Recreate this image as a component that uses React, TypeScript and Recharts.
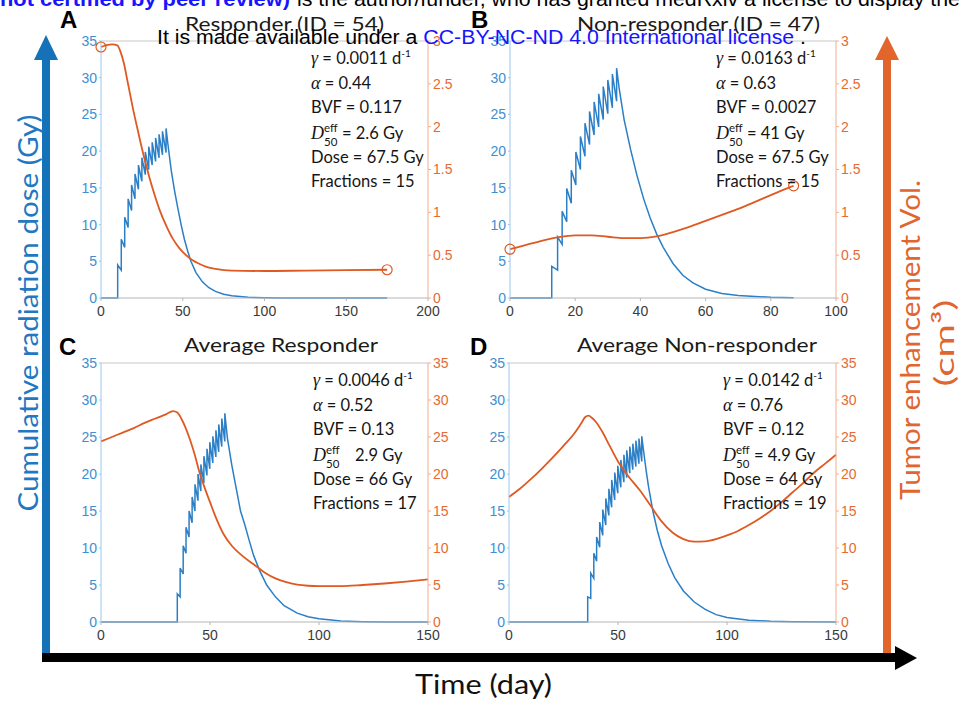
import React from 'react';
import { ComposedChart, Line, XAxis, YAxis, ReferenceLine } from 'recharts';

const BLUE = '#2b7fc6';
const ORANGE = '#de5a22';
const TICK_FONT = 'Liberation Sans';
const TEXT_FONT = 'Lato';

// x ticks / y ticks
const xTicksA = [0, 50, 100, 150, 200];
const xTicksB = [0, 20, 40, 60, 80, 100];
const xTicksCD = [0, 50, 100, 150];
const doseTicks = [0, 5, 10, 15, 20, 25, 30, 35];
const volTicksAB = [0, 0.5, 1, 1.5, 2, 2.5, 3];
const volTicksCD = [0, 5, 10, 15, 20, 25, 30, 35];

// A: Responder (ID = 54)
const doseDaysA = [10.2, 12.4, 14.5, 16.6, 18.7, 20.8, 22.9, 25.0, 27.1, 29.2, 31.3, 33.4, 35.5, 37.6, 39.8];
const dosePeaksA = [4.5, 8.0, 11.0, 13.5, 15.4, 16.9, 18.1, 19.1, 19.9, 20.6, 21.2, 21.8, 22.3, 22.7, 23.1];
const doseTroughsA = [3.8, 6.9, 9.6, 11.9, 13.5, 14.8, 15.9, 16.8, 17.5, 18.1, 18.6, 19.1, 19.5, 19.8];
const tailDaysA = [41, 43, 45, 47, 49, 51, 53, 55, 58, 62, 66, 70, 75, 80, 90, 100, 110, 175];
const tailDoseA = [20.8, 17.3, 14.6, 12.2, 10.0, 8.0, 6.4, 5.0, 3.5, 2.2, 1.4, 0.9, 0.5, 0.3, 0.1, 0.03, 0, 0];
const volDaysA = [0, 3, 7, 10, 12, 14, 16, 18, 20, 22, 24, 26, 28, 30, 33, 36, 40, 44, 48, 52, 56, 60, 65, 70, 80, 100, 125, 150, 175];
const volA = [2.93, 2.95, 2.96, 2.95, 2.87, 2.74, 2.55, 2.36, 2.17, 2.0, 1.83, 1.67, 1.52, 1.38, 1.19, 1.02, 0.84, 0.69, 0.58, 0.5, 0.44, 0.4, 0.36, 0.34, 0.32, 0.315, 0.32, 0.325, 0.33];

// B: Non-responder (ID = 47)
const doseDaysB = [12.8, 14.6, 16.0, 17.4, 18.8, 20.2, 21.6, 23.0, 24.4, 25.8, 27.2, 28.6, 30.0, 31.4, 32.7];
const dosePeaksB = [4.3, 8.3, 11.8, 14.9, 17.4, 19.9, 22.0, 23.8, 25.4, 26.7, 27.8, 28.8, 29.7, 30.5, 31.3];
const doseTroughsB = [3.8, 7.3, 10.4, 12.9, 15.4, 17.5, 19.3, 20.9, 22.2, 23.3, 24.3, 25.1, 25.9, 26.8];
const tailDaysB = [33.5, 35, 37, 39, 41, 43, 45, 47, 50, 53, 56, 60, 65, 70, 80, 87];
const tailDoseB = [28.5, 24.3, 20.2, 16.6, 13.5, 10.9, 8.7, 6.9, 4.7, 3.1, 2.1, 1.2, 0.6, 0.35, 0.1, 0.03];
const volDaysB = [0, 5, 10, 15, 20, 25, 30, 35, 40, 45, 50, 55, 60, 65, 70, 75, 80, 85, 87];
const volB = [0.57, 0.62, 0.67, 0.71, 0.73, 0.73, 0.715, 0.7, 0.7, 0.72, 0.77, 0.83, 0.9, 0.97, 1.04, 1.12, 1.2, 1.28, 1.31];

// C: Average Responder
const doseDaysC = [35.0, 36.3, 37.7, 39.0, 40.4, 41.8, 43.1, 44.5, 45.8, 47.2, 48.6, 49.9, 51.3, 52.7, 54.0, 55.4, 56.8];
const dosePeaksC = [3.8, 7.3, 10.3, 12.8, 15.0, 16.9, 18.6, 20.0, 21.3, 22.4, 23.4, 24.3, 25.1, 25.9, 26.7, 27.5, 28.2];
const doseTroughsC = [3.4, 6.5, 9.3, 11.5, 13.4, 15.0, 16.4, 17.7, 18.8, 19.8, 20.7, 21.5, 22.3, 23.0, 23.7, 24.4];
const tailDaysC = [58, 60, 62, 64, 66, 68, 70, 73, 76, 80, 84, 90, 95, 100, 110, 120, 130, 150];
const tailDoseC = [24.8, 21.2, 18.1, 15.0, 13.1, 11.0, 9.0, 6.8, 5.0, 3.4, 2.2, 1.2, 0.7, 0.45, 0.15, 0.05, 0, 0];
const volDaysC = [0, 5, 10, 15, 20, 25, 30, 33, 35, 37, 39, 41, 43, 45, 47, 50, 53, 56, 60, 65, 70, 75, 80, 85, 90, 95, 100, 110, 120, 130, 140, 150];
const volC = [24.4, 25.0, 25.6, 26.2, 26.9, 27.5, 28.1, 28.5, 28.3, 27.4, 26.1, 24.5, 22.6, 20.4, 18.6, 16.2, 13.9, 12.0, 10.3, 8.9, 7.8, 6.7, 5.9, 5.4, 5.05, 4.9, 4.85, 4.85, 5.0, 5.2, 5.45, 5.75];

// D: Average Non-responder
const doseDaysD = [36.1, 37.5, 38.9, 40.2, 41.6, 43.0, 44.4, 45.8, 47.1, 48.5, 49.9, 51.3, 52.7, 54.0, 55.4, 56.8, 58.2, 59.6, 60.9];
const dosePeaksD = [3.4, 6.6, 9.3, 11.5, 13.5, 15.2, 16.7, 18.0, 19.2, 20.2, 21.1, 21.9, 22.6, 23.2, 23.7, 24.1, 24.5, 24.8, 25.1];
const doseTroughsD = [3.2, 5.9, 8.2, 10.1, 11.7, 13.1, 14.4, 15.5, 16.5, 17.4, 18.2, 18.9, 19.5, 20.1, 20.6, 21.0, 21.4, 21.7];
const tailDaysD = [62, 63, 64, 66, 68, 70, 73, 76, 80, 85, 90, 95, 100, 110, 120, 130, 150];
const tailDoseD = [22.5, 20.3, 18.3, 15.0, 12.4, 10.3, 7.9, 6.0, 4.2, 2.7, 1.7, 1.0, 0.6, 0.25, 0.1, 0.03, 0];
const volDaysD = [0, 5, 10, 15, 20, 25, 30, 33, 35, 36.5, 38, 40, 43, 46, 50, 55, 60, 65, 70, 75, 80, 85, 90, 95, 100, 105, 110, 115, 120, 125, 130, 135, 140, 145, 150];
const volD = [16.9, 18.0, 19.3, 20.7, 22.2, 23.8, 25.5, 26.8, 27.7, 27.9, 27.6, 27.0, 25.6, 23.9, 21.7, 19.6, 17.8, 15.7, 13.6, 12.1, 11.2, 10.85, 10.9, 11.2, 11.7, 12.3, 13.1, 14.0, 15.0, 16.2, 17.5, 18.8, 20.2, 21.4, 22.6];

// fitted parameters shown in each panel
const gammaText = ['0.0011', '0.0163', '0.0046', '0.0142'];
const alphaText = ['0.44', '0.63', '0.52', '0.76'];
const bvfText = ['0.117', '0.0027', '0.13', '0.12'];
const d50Text = ['= 2.6 Gy', '= 41 Gy', '2.9 Gy', '= 4.9 Gy'];
const doseText = ['67.5 Gy', '67.5 Gy', '66 Gy', '64 Gy'];
const fractionText = ['15', '15', '17', '19'];
const titles = ['Responder (ID = 54)', 'Non-responder (ID = 47)', 'Average Responder', 'Average Non-responder'];

function buildDose(days: number[], peaks: number[], troughs: number[], tailDays: number[], tailDose: number[]) {
  const pts = [{ x: 0, dose: 0 }, { x: days[0], dose: 0 }, { x: days[0], dose: peaks[0] }];
  for (let i = 1; i < days.length; i++) {
    pts.push({ x: days[i], dose: troughs[i - 1] });
    pts.push({ x: days[i], dose: peaks[i] });
  }
  tailDays.forEach((d, i) => pts.push({ x: d, dose: tailDose[i] }));
  return pts;
}

function buildVol(days: number[], vals: number[]) {
  return days.map((d, i) => ({ x: d, vol: vals[i] }));
}

const panels = [
  { left: 101, top: 41, w: 327, h: 257, xMax: 200, xTicks: xTicksA, volMax: 3, volTicks: volTicksAB, markers: true,
    dose: buildDose(doseDaysA, dosePeaksA, doseTroughsA, tailDaysA, tailDoseA), vol: buildVol(volDaysA, volA) },
  { left: 510, top: 41, w: 326, h: 257, xMax: 100, xTicks: xTicksB, volMax: 3, volTicks: volTicksAB, markers: true,
    dose: buildDose(doseDaysB, dosePeaksB, doseTroughsB, tailDaysB, tailDoseB), vol: buildVol(volDaysB, volB) },
  { left: 101, top: 363, w: 327, h: 259, xMax: 150, xTicks: xTicksCD, volMax: 35, volTicks: volTicksCD, markers: false,
    dose: buildDose(doseDaysC, dosePeaksC, doseTroughsC, tailDaysC, tailDoseC), vol: buildVol(volDaysC, volC) },
  { left: 509, top: 363, w: 327, h: 259, xMax: 150, xTicks: xTicksCD, volMax: 35, volTicks: volTicksCD, markers: false,
    dose: buildDose(doseDaysD, dosePeaksD, doseTroughsD, tailDaysD, tailDoseD), vol: buildVol(volDaysD, volD) },
];

// note positions, title positions, letters
const noteX = [311, 716, 313, 723];
const titleBox = [
  { x: 185, y: 31, len: 199 },
  { x: 577, y: 31, len: 243 },
  { x: 184, y: 352, len: 194 },
  { x: 577, y: 352, len: 240 },
];
const letters = [
  { t: 'A', x: 60, y: 28 },
  { t: 'B', x: 471, y: 28 },
  { t: 'C', x: 59, y: 355 },
  { t: 'D', x: 470, y: 355 },
];

function endDots(len: number) {
  // eslint-disable-next-line @typescript-eslint/no-explicit-any
  return (props: any) => {
    const { cx, cy, index } = props;
    if (index !== 0 && index !== len - 1) return <g key={`d${index}`} />;
    return <circle key={`d${index}`} cx={cx} cy={cy} r={5} fill="none" stroke={ORANGE} strokeWidth={1.2} />;
  };
}

// eslint-disable-next-line @typescript-eslint/no-explicit-any
function Panel({ p }: { p: any }) {
  const W = p.w + 81;
  const H = p.h + 41;
  return (
    <div style={{ position: 'absolute', left: p.left - 41, top: p.top - 11 }}>
      <ComposedChart width={W} height={H} margin={{ top: 11, right: 5, bottom: 5, left: 6 }}>
        <XAxis
          type="number"
          dataKey="x"
          domain={[0, p.xMax]}
          ticks={p.xTicks}
          interval={0}
          height={25}
          tickSize={3}
          tickMargin={5}
          stroke="#b5b5b5"
          tick={{ fill: '#3a3a3a', fontSize: 14, fontFamily: TICK_FONT }}
        />
        <YAxis
          yAxisId="dose"
          type="number"
          domain={[0, 35]}
          ticks={doseTicks}
          interval={0}
          width={35}
          tickSize={2}
          tickMargin={2}
          stroke="#9cc6ea"
          tick={{ fill: '#3d8fd1', fontSize: 14, fontFamily: TICK_FONT }}
        />
        <YAxis
          yAxisId="vol"
          orientation="right"
          type="number"
          domain={[0, p.volMax]}
          ticks={p.volTicks}
          interval={0}
          width={35}
          tickSize={3}
          tickMargin={2}
          stroke="#f2ae8c"
          tick={{ fill: '#e66a32', fontSize: 14, fontFamily: TICK_FONT }}
        />
        <ReferenceLine yAxisId="dose" y={35} stroke="#c8c8c8" />
        <Line
          yAxisId="dose"
          data={p.dose}
          dataKey="dose"
          type="linear"
          stroke={BLUE}
          strokeWidth={1.5}
          dot={false}
          activeDot={false}
          isAnimationActive={false}
        />
        <Line
          yAxisId="vol"
          data={p.vol}
          dataKey="vol"
          type="monotone"
          stroke={ORANGE}
          strokeWidth={1.8}
          dot={p.markers ? endDots(p.vol.length) : false}
          activeDot={false}
          isAnimationActive={false}
        />
      </ComposedChart>
    </div>
  );
}

function Notes({ i, top }: { i: number; top: number }) {
  const x = noteX[i];
  const serif = { fontFamily: 'Liberation Serif', fontStyle: 'italic' as const };
  return (
    <g style={{ fontFamily: TEXT_FONT, fontSize: 16.5 }} fill="#151515">
      <text x={x} y={top + 23}>
        <tspan style={serif} fontSize={18}>γ</tspan> = {gammaText[i]} d
        <tspan dy={-7} fontSize={10}>-1</tspan>
      </text>
      <text x={x} y={top + 48}>
        <tspan style={serif} fontSize={18}>α</tspan> = {alphaText[i]}
      </text>
      <text x={x} y={top + 72}>BVF = {bvfText[i]}</text>
      <text x={x} y={top + 98} style={serif} fontSize={18}>D</text>
      <text x={x + 13} y={top + 91} fontSize={11.5}>eff</text>
      <text x={x + 13} y={top + 105} fontSize={11.5}>50</text>
      <text x={i === 2 ? x + 42 : x + 31} y={top + 98}>{d50Text[i]}</text>
      <text x={x} y={top + 122}>Dose = {doseText[i]}</text>
      <text x={x} y={top + 146}>Fractions = {fractionText[i]}</text>
    </g>
  );
}

function Overlay() {
  return (
    <svg width={963} height={706} style={{ position: 'absolute', left: 0, top: 0, pointerEvents: 'none' }}>
      {/* big arrows */}
      <rect x={42} y={56} width={8} height={602} fill="#1572b9" />
      <polygon points="46,35 34,60 58,60" fill="#1572b9" />
      <rect x={883} y={56} width={8} height={600} fill="#e2652c" />
      <polygon points="887,36 875,60 899,60" fill="#e2652c" />
      <rect x={42} y={653} width={856} height={9} fill="#000" />
      <polygon points="895,646 917,658 895,670" fill="#000" />

      <text
        transform="rotate(-90, 38, 313)"
        x={38}
        y={313}
        textAnchor="middle"
        fontFamily={TEXT_FONT}
        fontSize={27}
        fill="#1f78c1"
        textLength={397}
        lengthAdjust="spacingAndGlyphs"
      >
        Cumulative radiation dose (Gy)
      </text>
      <text
        transform="rotate(-90, 920, 340)"
        x={920}
        y={340}
        textAnchor="middle"
        fontFamily={TEXT_FONT}
        fontSize={27}
        fill="#e0652e"
        textLength={320}
        lengthAdjust="spacingAndGlyphs"
      >
        Tumor enhancement Vol.
      </text>
      <text
        transform="rotate(-90, 954, 343)"
        x={954}
        y={343}
        textAnchor="middle"
        fontFamily={TEXT_FONT}
        fontSize={27}
        fill="#e0652e"
        textLength={87}
        lengthAdjust="spacingAndGlyphs"
      >
        (cm³)
      </text>
      <text x={415} y={694} fontFamily={TEXT_FONT} fontSize={27} fill="#111" textLength={137} lengthAdjust="spacingAndGlyphs">
        Time (day)
      </text>

      {letters.map((l) => (
        <text key={l.t} x={l.x} y={l.y} fontFamily={TICK_FONT} fontWeight="bold" fontSize={24} fill="#000">
          {l.t}
        </text>
      ))}
      {titles.map((t, i) => (
        <text
          key={t}
          x={titleBox[i].x}
          y={titleBox[i].y}
          fontFamily={TEXT_FONT}
          fontSize={19.5}
          fill="#1a1a1a"
          textLength={titleBox[i].len}
          lengthAdjust="spacingAndGlyphs"
        >
          {t}
        </text>
      ))}
      {panels.map((p, i) => (
        <Notes key={i} i={i} top={p.top} />
      ))}

      {/* preprint watermark lines */}
      <text x={0} y={6} fontFamily={TICK_FONT} fontWeight="bold" fontSize={19.5} fill="#1515ff" textLength={290} lengthAdjust="spacingAndGlyphs">
        not certified by peer review)
      </text>
      <text x={297} y={6} fontFamily={TICK_FONT} fontSize={19.5} fill="#000" textLength={663} lengthAdjust="spacingAndGlyphs">
        is the author/funder, who has granted medRxiv a license to display the
      </text>
      <text x={157} y={43.5} fontFamily={TICK_FONT} fontSize={19.5} textLength={649} lengthAdjust="spacingAndGlyphs">
        <tspan fill="#000">It is made available under a </tspan>
        <tspan fill="#1515ff">CC-BY-NC-ND 4.0 International license</tspan>
        <tspan fill="#000"> .</tspan>
      </text>
    </svg>
  );
}

export default function App() {
  return (
    <div style={{ position: 'absolute', left: 0, top: 0, width: 963, height: 706, background: '#fff', overflow: 'hidden' }}>
      {panels.map((p, i) => (
        <Panel key={i} p={p} />
      ))}
      <Overlay />
    </div>
  );
}
